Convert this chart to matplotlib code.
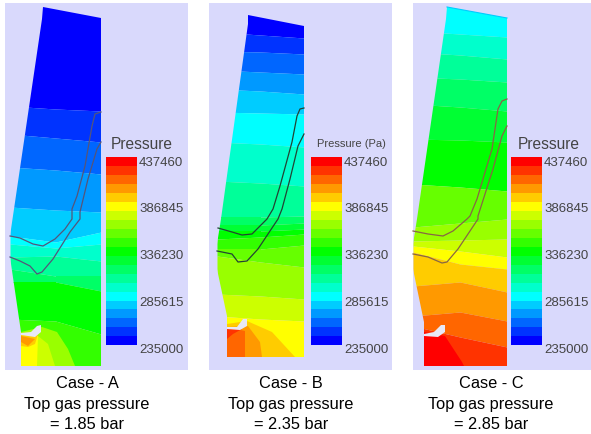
import matplotlib
matplotlib.use("Agg")
import matplotlib.pyplot as plt
from matplotlib.patches import Polygon, Rectangle

plt.rcParams['font.family'] = ['Liberation Sans', 'DejaVu Sans']

# colour levels, bottom of the legend to the top
LEVELS = ["#0000ff", "#0033ff", "#0066ff", "#0099ff", "#00ccff", "#00ffff", "#00ffcc",
          "#00ff99", "#00ff66", "#00ff33", "#00ff00", "#33ff00", "#66ff00", "#99ff00",
          "#ccff00", "#ffff00", "#ffcc00", "#ff9900", "#ff6600", "#ff3300", "#ff0000"]
TICK_LABELS = ["437460", "386845", "336230", "285615", "235000"]
TICK_Y = [163.5, 209.5, 256.5, 303.5, 350.5]
BG = "#d9d9fc"

# furnace outlines (pixels)
outline_a = [(43, 8), (101, 19), (101, 367), (21, 367), (21, 333), (10, 258), (10, 237), (14, 210), (42, 20)]
outline_b = [(248, 16), (304, 27), (304, 358), (227, 358), (227, 317), (217, 270), (217, 245), (221, 220), (248, 25)]
outline_c = [(447, 8), (507, 19), (507, 367), (424, 367), (424, 323), (413, 270), (413, 245), (417, 220), (446, 20)]

# band boundaries: level, y at left / middle / right of the furnace
bands_a = [(0, 107, 110, 112), (1, 135, 139, 143), (2, 168, 171, 175), (3, 208, 211, 213),
           (4, 237, 243, 233), (5, 245, 249, 245), (6, 258, 257, 262), (7, 270, 277, 277),
           (8, 283, 283, 292), (10, 320, 322, 335), (11, 367, 367, 367)]
bands_b = [(0, 33, 36, 39), (1, 52, 53, 55), (2, 71, 73, 75), (3, 90, 92, 95),
           (4, 113, 114, 115), (5, 143, 145, 148), (6, 182, 184, 187), (7, 218, 218, 217),
           (8, 226, 226, 224), (9, 232, 232, 230), (10, 240, 238, 235), (11, 250, 250, 246),
           (12, 257, 263, 268), (13, 295, 297, 300), (14, 317, 320, 322), (15, 367, 367, 367)]
bands_c = [(5, 32, 35, 38), (6, 53, 56, 60), (7, 78, 80, 83), (8, 105, 108, 112),
           (9, 140, 141, 143), (10, 185, 188, 192), (12, 228, 224, 220), (13, 242, 241, 240),
           (14, 247, 252, 258), (15, 253, 265, 270), (16, 287, 283, 293), (17, 317, 313, 322),
           (18, 327, 338, 348), (19, 367, 367, 367)]

# burner fans, drawn over the bands in this order
fans_a = [(13, [(42, 328), (57, 333), (68, 350), (75, 367), (21, 367), (21, 333)]),
          (14, [(38, 337), (48, 345), (55, 367), (21, 367), (21, 335)]),
          (15, [(38, 337), (37, 367), (21, 367), (21, 335)]),
          (16, [(21, 335), (38, 335), (35, 345), (28, 348), (21, 347)]),
          (17, [(21, 337), (35, 340), (28, 347), (21, 343)])]
fans_b = [(16, [(247, 322), (272, 333), (295, 358), (227, 358), (227, 325)]),
          (17, [(248, 327), (260, 343), (262, 358), (227, 358), (227, 328)]),
          (18, [(245, 332), (245, 358), (227, 358), (227, 328)]),
          (19, [(227, 328), (242, 330), (233, 335), (227, 340)])]
fans_c = [(20, [(424, 333), (445, 337), (462, 363), (464, 367), (424, 367)])]

# lance tips
lance_a = [(21, 334), (31, 333), (37, 327), (41, 326), (41, 333), (35, 338), (21, 336)]
lance_b = [(227, 328), (237, 328), (243, 320), (247, 320), (247, 327), (240, 331), (227, 330)]
lance_c = [(424, 335), (434, 333), (441, 326), (445, 326), (445, 333), (438, 338), (424, 337)]

# cohesive zone profiles
upper_a = [(10, 237), (20, 239), (33, 245), (43, 247), (55, 240), (65, 230), (72, 220), (72, 210),
           (77, 197), (85, 167), (92, 127), (95, 115), (101, 113)]
lower_a = [(10, 258), (20, 262), (30, 267), (37, 275), (42, 273), (53, 260), (70, 233), (80, 220),
           (80, 213), (88, 180), (97, 150), (101, 143)]
upper_b = [(218, 229), (232, 233), (242, 236), (252, 235), (260, 227), (267, 220), (273, 210),
           (280, 187), (292, 143), (297, 117), (300, 110), (304, 109)]
lower_b = [(217, 252), (232, 255), (238, 263), (247, 262), (258, 250), (278, 220), (282, 210),
           (290, 180), (298, 147), (304, 135)]
upper_c = [(413, 232), (428, 235), (443, 237), (453, 232), (467, 220), (470, 217), (477, 200),
           (492, 150), (498, 110), (502, 102), (507, 100)]
lower_c = [(413, 255), (428, 258), (442, 264), (447, 263), (458, 250), (478, 220), (478, 217),
           (493, 170), (502, 137), (507, 127)]

fig = plt.figure(figsize=(5.91, 4.35), dpi=100)
ax = fig.add_axes([0, 0, 1, 1])
ax.set_xlim(0, 591)
ax.set_ylim(435, 0)
ax.axis("off")


def draw_case(bg, outline, bands, fans, lance, upper, lower, line_color, bar_x, title, title_size,
              title_x, caption, caption_x):
    ax.add_patch(Rectangle((bg[0], 4), bg[1] - bg[0], 367, color=BG, lw=0, zorder=1))
    clip = Polygon(outline, closed=True, transform=ax.transData)

    xs_all = [p[0] for p in outline]
    x0, x1 = min(xs_all), max(xs_all)
    xm = (x0 + x1) / 2
    prev = [0, 0, 0]
    for level, yl, ym, yr in bands:
        art = ax.fill_between([x0, xm, x1], prev, [yl, ym, yr], color=LEVELS[level], lw=0, zorder=2)
        art.set_clip_path(clip)
        prev = [yl, ym, yr]

    for level, pts in fans:
        ax.add_patch(Polygon(pts, closed=True, color=LEVELS[level], lw=0, zorder=3))
    ax.add_patch(Polygon(lance, closed=True, color="#e8e8f6", lw=0, zorder=4))

    for line in (upper, lower):
        ax.plot([p[0] for p in line], [p[1] for p in line], color=line_color, lw=0.9, zorder=5)

    # legend bar
    step = (346 - 158) / len(LEVELS)
    for i, c in enumerate(LEVELS):
        ax.add_patch(Rectangle((bar_x, 346 - (i + 1) * step), 31, step + 0.3, color=c, lw=0, zorder=2))
    for lab, y in zip(TICK_LABELS, TICK_Y):
        ax.text(bar_x + 33, y, lab, fontsize=9.5, color="#444444", va="center", ha="left", zorder=6)
    ax.text(title_x, 144.5, title, fontsize=title_size, color="#444444", va="center", ha="center", zorder=6)

    for line, y in zip(caption, [384, 405, 425]):
        ax.text(caption_x, y, line, fontsize=11.8, color="black", va="center", ha="center", zorder=6)


draw_case((5, 188), outline_a, bands_a, fans_a, lance_a, upper_a, lower_a, "#55557a", 106,
          "Pressure", 11.2, 142, ["Case - A", "Top gas pressure", "= 1.85 bar"], 87)
draw_case((209, 392), outline_b, bands_b, fans_b, lance_b, upper_b, lower_b, "#224433", 311,
          "Pressure (Pa)", 8, 351, ["Case - B", "Top gas pressure", "= 2.35 bar"], 291)
draw_case((413, 591), outline_c, bands_c, fans_c, lance_c, upper_c, lower_c, "#886644", 511,
          "Pressure", 11.2, 549, ["Case - C", "Top gas pressure", "= 2.85 bar"], 491)

# thin lighter edge along the top of case C
ax.plot([outline_c[0][0], outline_c[1][0]], [outline_c[0][1], outline_c[1][1]], color=LEVELS[4], lw=0.8, zorder=5)

fig.savefig("out.png", dpi=100)
